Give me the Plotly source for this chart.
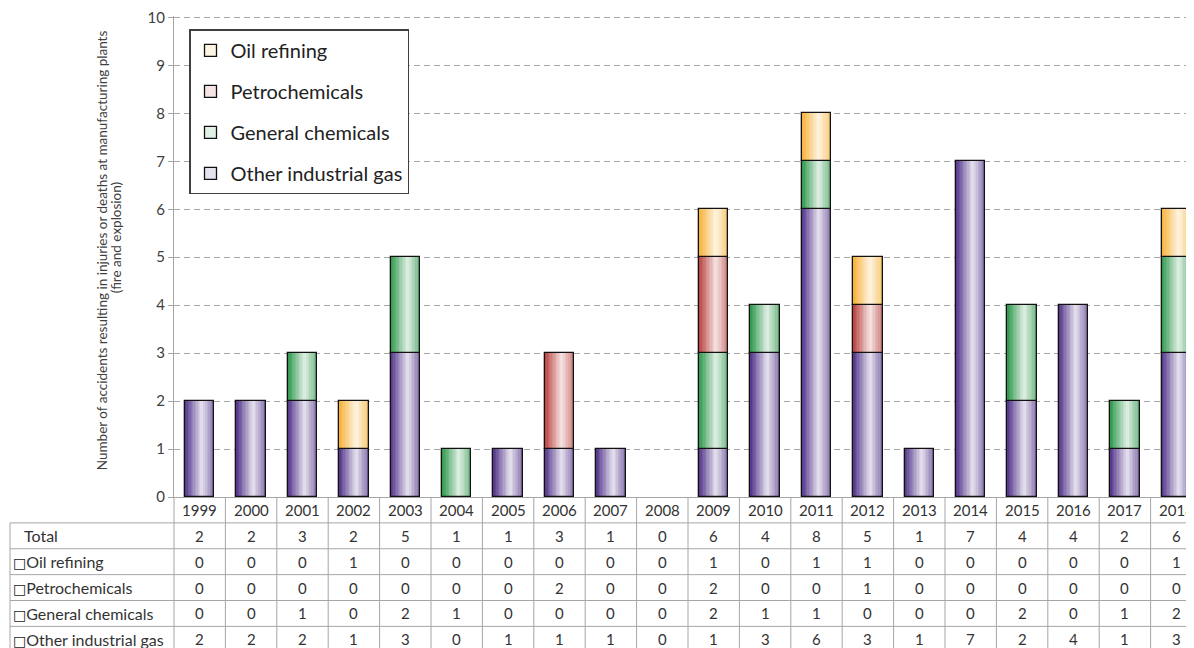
import numpy as np
import plotly.graph_objects as go

# ---------------- data ----------------
years = list(range(1999, 2019))
oil_refining = [0, 0, 0, 1, 0, 0, 0, 0, 0, 0, 1, 0, 1, 1, 0, 0, 0, 0, 0, 1]
petrochemicals = [0, 0, 0, 0, 0, 0, 0, 2, 0, 0, 2, 0, 0, 1, 0, 0, 0, 0, 0, 0]
general_chemicals = [0, 0, 1, 0, 2, 1, 0, 0, 0, 0, 2, 1, 1, 0, 0, 0, 2, 0, 1, 2]
other_industrial_gas = [2, 2, 2, 1, 3, 0, 1, 1, 1, 0, 1, 3, 6, 3, 1, 7, 2, 4, 1, 3]
totals = [2, 2, 3, 2, 5, 1, 1, 3, 1, 0, 6, 4, 8, 5, 1, 7, 4, 4, 2, 6]

series_names = ["Other industrial gas", "General chemicals", "Petrochemicals", "Oil refining"]
series_values = [other_industrial_gas, general_chemicals, petrochemicals, oil_refining]
legend_ranks = [4, 3, 2, 1]
table_rows = [("Total", totals), ("Oil refining", oil_refining), ("Petrochemicals", petrochemicals),
              ("General chemicals", general_chemicals), ("Other industrial gas", other_industrial_gas)]
y_title_lines = ["Number of accidents resulting in injuries or deaths at manufacturing plants",
                 "(fire and explosion)"]
Y_MAX = 10

# ---------------- style ----------------
edge_colors = {"Other industrial gas": (88, 58, 142), "General chemicals": (52, 156, 82),
               "Petrochemicals": (188, 72, 70), "Oil refining": (247, 180, 62)}
FONT = "Lato, 'Open Sans', sans-serif"
PAGE_OFF = 8                       # default body margin of the html page
W, H = 1194 - PAGE_OFF, 648 - PAGE_OFF
UNIT_PX = 48                       # pixels per y unit
HEADROOM = 0.03                    # small range headroom so the top gridline is drawn
ML, MR, MB = 166, 0, 151
PH = UNIT_PX * (Y_MAX + HEADROOM)
MT = H - MB - PH
PW = W - ML - MR
COLW = 51.4          # pixel width of one year column
ROWH = 25.9          # pixel height of one table row
TABLE_LEFT = 10      # page pixel x of table left border
GRID = "#a6a6a6"
TXT = "#333333"


def mix(c, t):
    r, g, b = (int(round(ci + (255 - ci) * t)) for ci in c)
    return f"rgb({r},{g},{b})"


def layers(edge, hw=0.285, p=0.04, a=0.35, n=12):
    out = []
    for k in range(n):
        t = k / n
        left = -hw + (p + hw) * t
        right = hw if t <= a else hw - (t - a) / (1 - a) * (hw - p)
        out.append((left, right - left, mix(edge, min(1.0, t * 1.05))))
    return out


fig = go.Figure()
bottom = np.zeros(len(years))
HW = 0.285
for name, vals, rank in zip(series_names, series_values, legend_ranks):
    v = np.array(vals, dtype=float)
    yv = [val if val > 0 else None for val in vals]
    edge = edge_colors[name]
    for off, wid, col in layers(edge, hw=HW):
        fig.add_bar(x=years, y=yv, base=bottom.copy(), offset=off, width=wid,
                    marker=dict(color=col, line=dict(width=0)),
                    showlegend=False, legendgroup=name, legendrank=rank, hoverinfo="skip")
    fig.add_bar(x=years, y=yv, base=bottom.copy(), offset=-HW, width=2 * HW, name=name,
                legendgroup=name, legendrank=rank,
                marker=dict(color="rgba(%d,%d,%d,0.15)" % edge, line=dict(color="#111111", width=1.3)))
    bottom = bottom + v

x0 = years[0] - 0.5
fig.update_xaxes(range=[x0, x0 + PW / COLW], showticklabels=False, ticks="", showgrid=False,
                 zeroline=False, showline=True, linecolor=GRID, linewidth=1)
fig.update_yaxes(range=[0, Y_MAX + HEADROOM], dtick=1, tick0=0, showgrid=True, gridcolor=GRID,
                 griddash="6px,4px", gridwidth=1, zeroline=False, showline=True, linecolor=GRID,
                 linewidth=1, ticks="outside", ticklen=5, tickcolor=GRID, ticklabeloverflow="allow",
                 tickfont=dict(family=FONT, size=15, color="#404040"))


def py(row_boundary):
    return -row_boundary * ROWH / PH


def px_to_paper(page_px):
    return (page_px - PAGE_OFF - ML) / PW


def pyy_to_paper(page_py):
    return (PH - (page_py - PAGE_OFF - MT)) / PH


shapes = []
bottom_y = py(7)
left_x = px_to_paper(TABLE_LEFT)
for k in range(1, 7):
    shapes.append(dict(type="line", xref="paper", yref="paper", x0=left_x, x1=1, y0=py(k), y1=py(k),
                       line=dict(color=GRID, width=1)))
shapes.append(dict(type="line", xref="paper", yref="paper", x0=left_x, x1=left_x, y0=py(1), y1=bottom_y,
                   line=dict(color=GRID, width=1)))
shapes.append(dict(type="line", xref="paper", yref="paper", x0=0, x1=0, y0=0, y1=bottom_y,
                   line=dict(color=GRID, width=1)))
for yr in years:
    shapes.append(dict(type="line", xref="x", yref="paper", x0=yr + 0.5, x1=yr + 0.5, y0=0, y1=bottom_y,
                       line=dict(color=GRID, width=1)))

annotations = []
for yr in years:
    annotations.append(dict(x=yr, y=py(0.5), xref="x", yref="paper", text=str(yr), showarrow=False,
                            font=dict(family=FONT, size=15, color=TXT), xanchor="center", yanchor="middle"))
for i, (label, vals) in enumerate(table_rows):
    yc = py(i + 1.5)
    if label == "Total":
        txt, lx = label, px_to_paper(TABLE_LEFT + 12)
    else:
        txt, lx = ('<span style="font-family:DejaVu Sans;font-size:14px;color:#222">□</span>' + label,
                   px_to_paper(TABLE_LEFT + 1))
    annotations.append(dict(x=lx, y=yc, xref="paper", yref="paper", text=txt, showarrow=False,
                            font=dict(family=FONT, size=16, color=TXT), xanchor="left", yanchor="middle"))
    for yr, v in zip(years, vals):
        annotations.append(dict(x=yr, y=yc, xref="x", yref="paper", text=str(v), showarrow=False,
                                font=dict(family=FONT, size=15, color=TXT), xanchor="center",
                                yanchor="middle"))
for line_txt, lx_px, ly_px in zip(y_title_lines, [102, 116], [250, 238]):
    annotations.append(dict(x=px_to_paper(lx_px), y=pyy_to_paper(ly_px), xref="paper", yref="paper",
                            text=line_txt, textangle=-90, showarrow=False,
                            font=dict(family=FONT, size=13.5, color="#404040"),
                            xanchor="center", yanchor="middle"))

fig.update_layout(
    width=W, height=H, margin=dict(l=ML, r=MR, t=MT, b=MB, pad=0),
    barmode="overlay", bargap=0, plot_bgcolor="white", paper_bgcolor="white",
    shapes=shapes, annotations=annotations,
    legend=dict(x=px_to_paper(189), y=pyy_to_paper(29), xanchor="left", yanchor="top",
                bordercolor="#404040", borderwidth=1.5, bgcolor="white",
                font=dict(family=FONT, size=20, color="#222222"),
                traceorder="grouped", tracegroupgap=12),
    hovermode=False,
)

fig.write_html("out.html")
